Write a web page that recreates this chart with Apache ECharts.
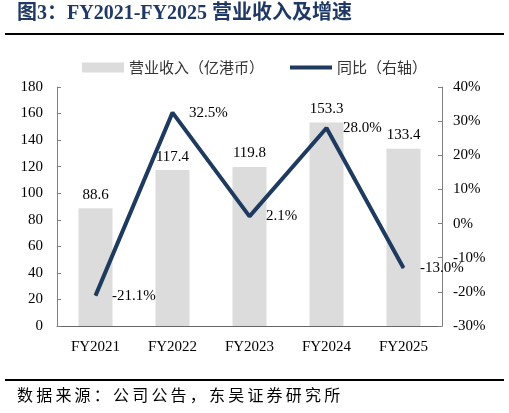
<!DOCTYPE html>
<html>
<head>
<meta charset="utf-8">
<script src="https://cdn.jsdelivr.net/npm/echarts@6/dist/echarts.min.js"></script>
<style>
  html, body { margin: 0; padding: 0; background: #fff; }
  #chart { width: 509px; height: 413px; }
</style>
</head>
<body>
<div id="chart"></div>
<script>
const years = ['FY2021', 'FY2022', 'FY2023', 'FY2024', 'FY2025']
const revenue = [88.6, 117.4, 119.8, 153.3, 133.4]
const growth = [-21.1, 32.5, 2.1, 28.0, -13.0]

const serif = '"Liberation Serif", "Noto Sans CJK SC", serif'
const cjk = '"Noto Sans CJK SC", serif'
const navy = '#1f3a5f'

// source note is set with wide character spacing in the original
const sourceNote = '数据来源：公司公告，东吴证券研究所'.split('').join('\u2009')

const chart = echarts.init(document.getElementById('chart'))

chart.setOption({
  animation: false,
  textStyle: { fontFamily: serif },
  graphic: [
    {
      type: 'text', left: 17, top: 4,
      style: {
        text: '图3：FY2021-FY2025 营业收入及增速',
        font: 'bold 20px "Liberation Serif", "Noto Sans CJK SC", serif',
        fill: '#1f3864'
      }
    },
    { type: 'rect', shape: { x: 5, y: 33, width: 499, height: 2 }, style: { fill: '#000' } },
    { type: 'rect', shape: { x: 5, y: 379, width: 499, height: 2 }, style: { fill: '#000' } },
    {
      type: 'text', left: 17, top: 387,
      style: { text: sourceNote, font: '16px "Noto Sans CJK SC", serif', fill: '#000' }
    }
  ],
  legend: {
    top: 55, left: 'center',
    itemWidth: 42, itemHeight: 10, itemGap: 26,
    textStyle: { fontFamily: cjk, fontSize: 15, color: '#333' },
    data: [
      { name: '营业收入（亿港币）', icon: 'rect' },
      { name: '同比（右轴）', icon: 'path://M0,0 L40,0 L40,4 L0,4 Z', itemStyle: { color: navy } }
    ]
  },
  grid: { left: 57, right: 67, top: 87, bottom: 87 },
  xAxis: {
    type: 'category',
    data: years,
    axisLine: { lineStyle: { color: '#666' } },
    axisTick: { inside: true, length: 4, lineStyle: { color: '#666' } },
    axisLabel: { color: '#000', fontSize: 15, margin: 14, fontFamily: serif }
  },
  yAxis: [
    {
      type: 'value', min: 0, max: 180, interval: 20,
      splitLine: { show: false },
      axisLine: { show: true, lineStyle: { color: '#808080' } },
      axisTick: { show: true, inside: true, length: 4, lineStyle: { color: '#808080' } },
      axisLabel: { color: '#000', fontSize: 15, margin: 14, fontFamily: serif }
    },
    {
      type: 'value', min: -30, max: 40, interval: 10,
      splitLine: { show: false },
      axisLine: { show: true, lineStyle: { color: '#808080' } },
      axisTick: { show: true, inside: true, length: 4, lineStyle: { color: '#808080' } },
      axisLabel: { color: '#000', fontSize: 15, margin: 11, fontFamily: serif, formatter: '{value}%' }
    }
  ],
  series: [
    {
      name: '营业收入（亿港币）',
      type: 'bar',
      data: revenue,
      barWidth: 34,
      itemStyle: { color: '#dcdcdc' },
      label: { show: true, position: 'top', color: '#000', fontSize: 15, fontFamily: serif, distance: 6 }
    },
    {
      name: '同比（右轴）',
      type: 'line',
      yAxisIndex: 1,
      data: growth,
      symbol: 'circle',
      symbolSize: 1,
      showSymbol: true,
      lineStyle: { color: navy, width: 4 },
      itemStyle: { color: navy },
      label: {
        show: true, position: 'right', color: '#000', fontSize: 15, fontFamily: serif,
        distance: 16, formatter: p => p.value.toFixed(1) + '%'
      }
    }
  ]
})
</script>
</body>
</html>
